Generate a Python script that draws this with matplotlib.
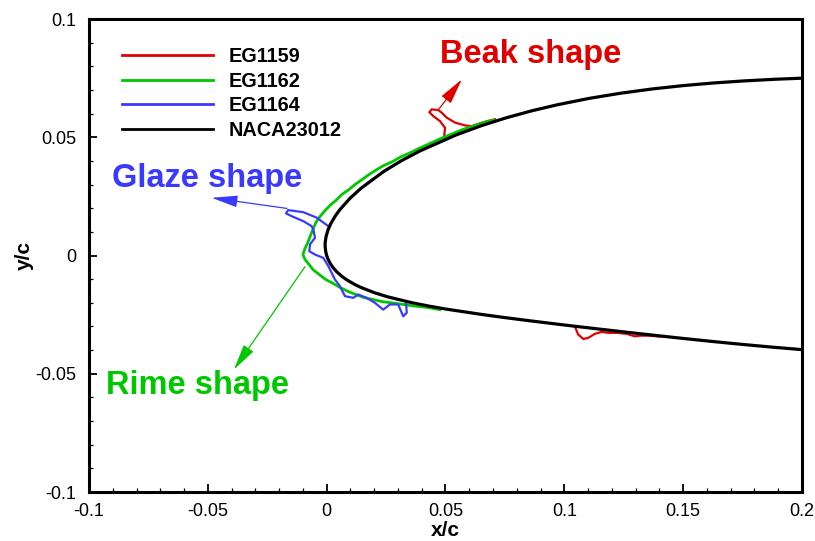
import matplotlib
matplotlib.use("Agg")
import matplotlib.pyplot as plt
from matplotlib.ticker import MultipleLocator, FuncFormatter

# ---------------- data ----------------
# NACA 23012 leading-edge region (x/c, y/c): upper surface from aft to LE, then lower surface aft
naca_x = [0.21128, 0.20126, 0.18865, 0.17589, 0.16301, 0.15, 0.13689, 0.12369, 0.11043, 0.09711,
          0.08646, 0.07581, 0.06521, 0.05468, 0.03912, 0.03149, 0.02402, 0.01441, 0.00984, 0.00550,
          0.00348, 0.00161, 0.00060, -0.00024, -0.00061, -0.00065, -0.00042, 0.0,
          0.00062, 0.00165, 0.00261, 0.00424, 0.00640, 0.00839, 0.01152, 0.01450, 0.02016, 0.02559,
          0.03598, 0.04351, 0.05088, 0.06532, 0.07479, 0.08419, 0.09354, 0.10289, 0.11457, 0.12631,
          0.13811, 0.15, 0.16199, 0.17411, 0.18635, 0.19874, 0.20872]
naca_y = [0.07535, 0.07503, 0.07452, 0.07384, 0.07297, 0.07184, 0.07041, 0.06862, 0.06643, 0.06375,
          0.06122, 0.05830, 0.05493, 0.05107, 0.04416, 0.04010, 0.03554, 0.02840, 0.02420, 0.01933,
          0.01649, 0.01322, 0.01090, 0.00809, 0.00563, 0.00393, 0.00173, 0.0,
          -0.00167, -0.00362, -0.00502, -0.00688, -0.00881, -0.01025, -0.01210, -0.01354, -0.01576, -0.01745,
          -0.02000, -0.02148, -0.02276, -0.02494, -0.02623, -0.02744, -0.02860, -0.02973, -0.03110, -0.03245,
          -0.03377, -0.03507, -0.03632, -0.03752, -0.03865, -0.03970, -0.04046]

# EG1159 (beak ice): upper beak, gap, lower roughness
eg1159_x = [0.0493, 0.0498, 0.0477, 0.0448, 0.0432, 0.0442, 0.0469, 0.0484, 0.0505, 0.0540,
            0.0582, 0.0610, 0.0645, 0.0687, 0.0708, float('nan'),
            0.1045, 0.1058, 0.1080, 0.1101, 0.1129, 0.1157, 0.1185, 0.1220, 0.1262, 0.1297,
            0.1318, 0.1360, 0.1402]
eg1159_y = [0.0490, 0.0540, 0.0568, 0.0590, 0.0606, 0.0618, 0.0615, 0.0604, 0.0583, 0.0562,
            0.0550, 0.0547, 0.0559, 0.0571, 0.0576, float('nan'),
            -0.0301, -0.0334, -0.0353, -0.0348, -0.0331, -0.0323, -0.0327, -0.0327, -0.0331, -0.0342,
            -0.0339, -0.0339, -0.0343]

# EG1162 (rime ice)
eg1162_x = [0.0704, 0.0662, 0.0620, 0.0573, 0.0527, 0.0481, 0.0435, 0.0393, 0.0350, 0.0308,
            0.0275, 0.0241, 0.0212, 0.0182, 0.0153, 0.0123, 0.0094, 0.0064, 0.0039, 0.0014,
            -0.0007, -0.0028, -0.0045, -0.0058, -0.0070, -0.0079, -0.0091, -0.0100, -0.0091,
            -0.0074, -0.0058, -0.0032, -0.0003, 0.0027, 0.0056, 0.0090, 0.0123, 0.0157, 0.0195,
            0.0233, 0.0279, 0.0321, 0.0371, 0.0426, 0.0477]
eg1162_y = [0.0573, 0.0563, 0.0548, 0.0533, 0.0514, 0.0495, 0.0474, 0.0455, 0.0434, 0.0415,
            0.0396, 0.0381, 0.0364, 0.0345, 0.0324, 0.0303, 0.0279, 0.0258, 0.0233, 0.0212,
            0.0190, 0.0165, 0.0140, 0.0110, 0.0080, 0.0055, 0.0030, 0.0004, -0.0017,
            -0.0038, -0.0059, -0.0080, -0.0102, -0.0118, -0.0135, -0.0152, -0.0165, -0.0178, -0.0186,
            -0.0195, -0.0201, -0.0207, -0.0214, -0.0220, -0.0229]

# EG1164 (glaze ice)
eg1164_x = [0.0014, 0.0007, -0.0042, -0.0098, -0.0162, -0.0171, -0.0147, -0.0098, -0.0063,
            -0.0056, -0.0049, -0.0070, -0.0073, -0.0049, -0.0014, 0.0007, 0.0035, 0.0056, 0.0077,
            0.0112, 0.0133, 0.0168, 0.0203, 0.0238, 0.0266, 0.0301, 0.0322, 0.0337, 0.0334]
eg1164_y = [0.0127, 0.0124, 0.0160, 0.0183, 0.0192, 0.0178, 0.0166, 0.0145, 0.0124,
            0.0110, 0.0075, 0.0047, 0.0018, 0.0004, -0.0010, -0.0045, -0.0102, -0.0130, -0.0172,
            -0.0179, -0.0165, -0.0179, -0.0200, -0.0229, -0.0207, -0.0207, -0.0257, -0.0242, -0.0200]

series_labels = ["EG1159", "EG1162", "EG1164", "NACA23012"]

# annotations: (text, text position, arrow tail, arrow tip)
beak_note = ("Beak shape", (0.0477, 0.0813), (0.0469, 0.0615), (0.0569, 0.0745))
glaze_note = ("Glaze shape", (-0.0903, 0.0288), (-0.0167, 0.0199), (-0.0484, 0.0244))
rime_note = ("Rime shape", (-0.0928, -0.0587), (-0.0091, -0.0047), (-0.0390, -0.0482))

# ---------------- style ----------------
RED = "#e00000"
GREEN = "#00c800"
BLUE = "#3a3aff"
BLACK = "#000000"

fig = plt.figure(figsize=(8.15, 5.41), dpi=100)
ax = fig.add_axes([89 / 815, 49 / 541, 713 / 815, 473 / 541])

ax.plot(eg1159_x, eg1159_y, color=RED, lw=1.6, label=series_labels[0], solid_joinstyle="round")
ax.plot(eg1162_x, eg1162_y, color=GREEN, lw=2.0, label=series_labels[1], solid_joinstyle="round")
ax.plot(eg1164_x, eg1164_y, color=BLUE, lw=1.6, label=series_labels[2], solid_joinstyle="round")
ax.plot(naca_x, naca_y, color=BLACK, lw=2.3, label=series_labels[3], solid_joinstyle="round")

ax.set_xlim(-0.1, 0.2)
ax.set_ylim(-0.1, 0.1)

ax.xaxis.set_major_locator(MultipleLocator(0.05))
ax.xaxis.set_minor_locator(MultipleLocator(0.01))
ax.yaxis.set_major_locator(MultipleLocator(0.05))
ax.yaxis.set_minor_locator(MultipleLocator(0.01))


def fmt(v, p):
    v = round(v, 4)
    if abs(v) < 1e-9:
        return "0"
    return f"{v:g}"


ax.xaxis.set_major_formatter(FuncFormatter(fmt))
ax.yaxis.set_major_formatter(FuncFormatter(fmt))
ax.tick_params(which="major", direction="in", length=6, width=1.3, top=False, right=False,
               labelsize=13)
ax.tick_params(which="minor", direction="in", length=3, width=0.9, top=False, right=False)
ax.tick_params(axis="x", which="major", pad=8)
ax.tick_params(axis="y", which="major", pad=9)
for lab in ax.get_xticklabels() + ax.get_yticklabels():
    lab.set_family("Liberation Sans")

for s in ax.spines.values():
    s.set_linewidth(2.2)

ax.set_xlabel("x/c", fontsize=15, fontweight="bold", family="Liberation Sans", labelpad=1)
ax.set_ylabel("y/c", fontsize=15, fontweight="bold", family="Liberation Sans", labelpad=1)

leg = ax.legend(loc="upper left", bbox_to_anchor=(0.0459, 0.941), frameon=False,
                borderpad=0, borderaxespad=0, handlelength=4.6, handletextpad=0.8,
                labelspacing=0.285, prop=dict(family="Liberation Sans", weight="bold", size=14.3))
for line in leg.get_lines():
    line.set_linewidth(2.0)

for (txt, tpos, tail, tip), col in zip([beak_note, glaze_note, rime_note], [RED, BLUE, GREEN]):
    ax.text(tpos[0], tpos[1], txt, color=col, fontsize=23.5, fontweight="bold",
            family="Liberation Sans", ha="left", va="baseline")
    ax.annotate("", xy=tip, xytext=tail,
                arrowprops=dict(arrowstyle="-|>,head_length=0.8,head_width=0.18", color=col,
                                lw=0.9, shrinkA=0, shrinkB=0, mutation_scale=20))

fig.savefig("out.png", dpi=100)
